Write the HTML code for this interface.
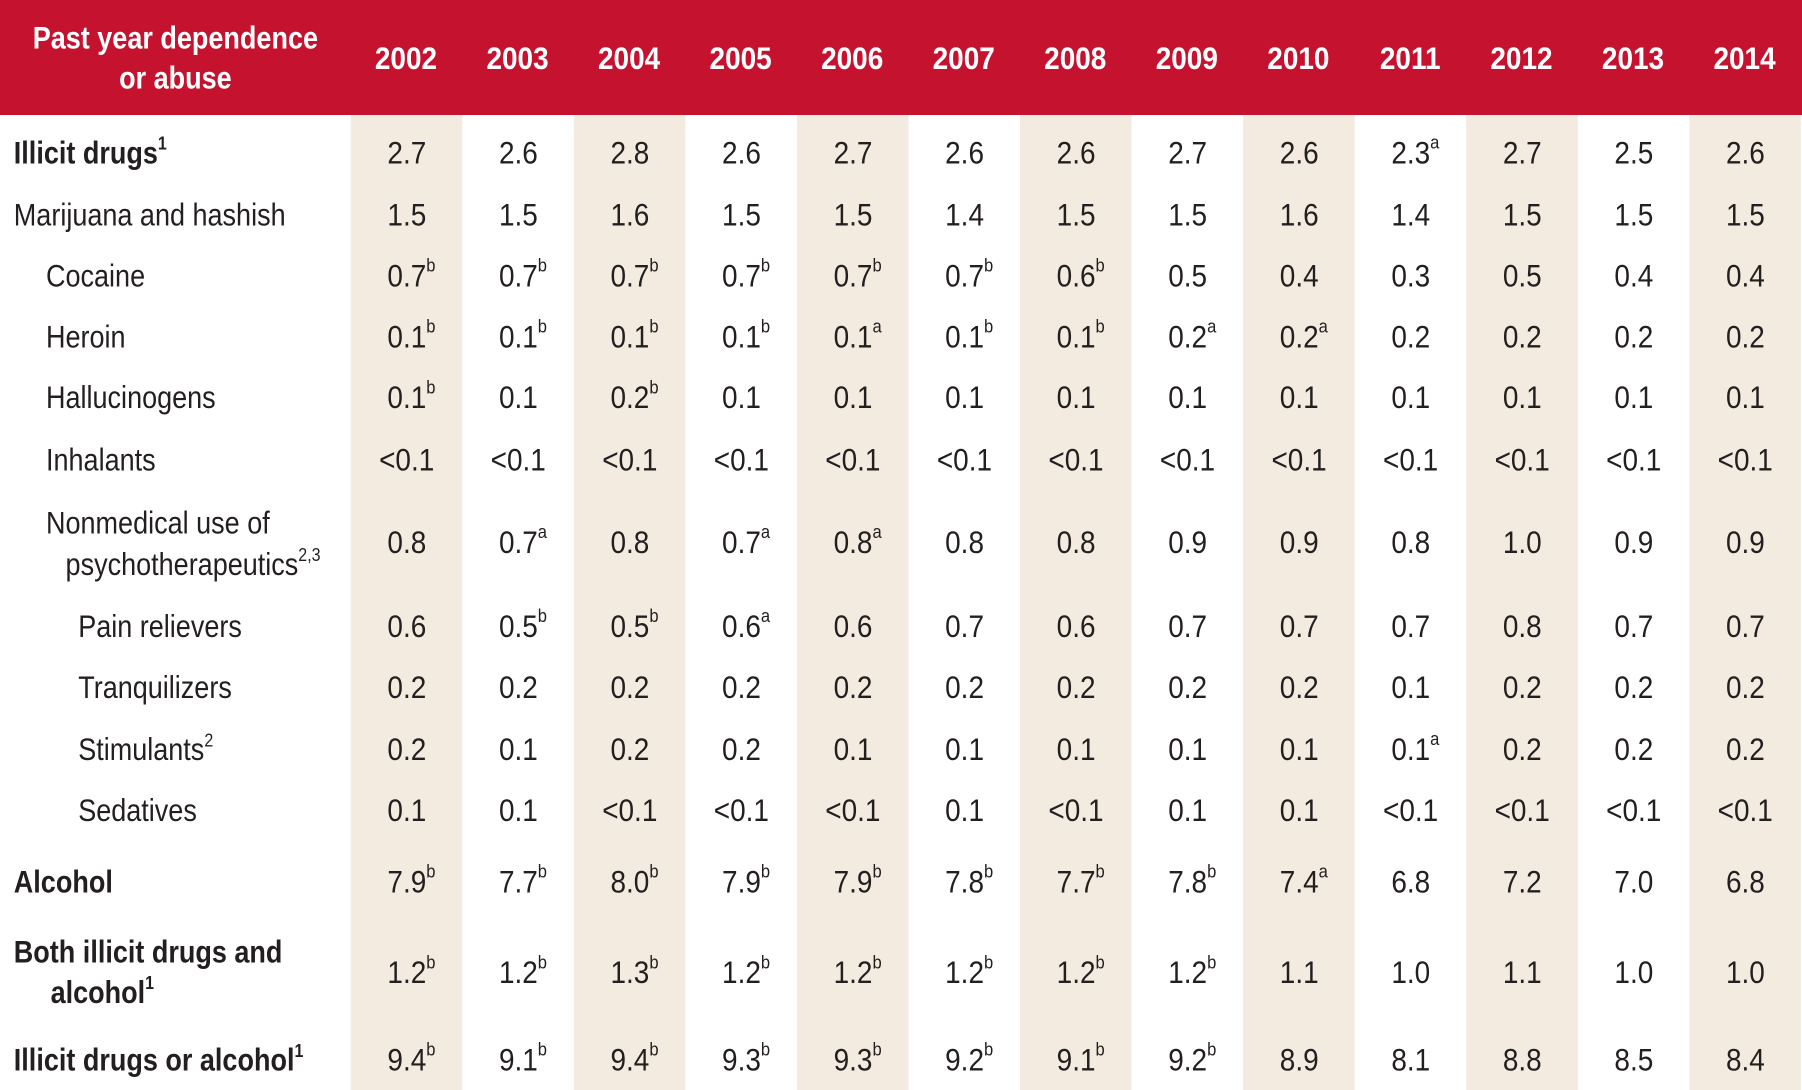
<!DOCTYPE html>
<html><head><meta charset="utf-8"><style>
html,body{margin:0;padding:0;background:#fff;overflow:hidden}
#w{position:absolute;left:0;top:0;width:1567px;height:948px;transform:scale(1.14997);transform-origin:0 0;font-family:"Liberation Sans Narrow","Liberation Sans",sans-serif;color:#231f20}
.hdr{position:absolute;left:0;top:0;width:1567px;height:100px;background:#c5122f}
.sh{position:absolute;top:100px;height:848px;width:97px;background:#f3ebdf}
.t{position:absolute;font-size:27px;white-space:nowrap;line-height:1;transform:scaleX(.87);transform-origin:0 0}
.h{color:#fff;font-weight:bold;font-size:27px}
.c{transform-origin:50% 0}
.v{position:absolute;width:97px;text-align:center;font-size:27px;line-height:1}
.v span{position:relative;display:inline-block;transform:scaleX(.9)}
.v sup{position:absolute;left:100%;top:-3px;font-size:16px}
b sup,.t sup{font-size:16px;vertical-align:top;position:relative;top:-2px}
</style></head><body><div id="w">
<div class="hdr"></div>
<div class="sh" style="left:305px"></div><div class="sh" style="left:499px"></div><div class="sh" style="left:693px"></div><div class="sh" style="left:887px"></div><div class="sh" style="left:1081px"></div><div class="sh" style="left:1275px"></div><div class="sh" style="left:1469px"></div>
<div class="t h c" style="left:0;width:305px;text-align:center;top:20px">Past year dependence</div>
<div class="t h c" style="left:0;width:305px;text-align:center;top:55px">or abuse</div>
<div id="years"></div>
<div id="labels">
<div class="t" style="left:12px;top:120px"><b>Illicit drugs<sup>1</sup></b></div>
<div class="t" style="left:12px;top:174px">Marijuana and hashish</div>
<div class="t" style="left:40px;top:227px">Cocaine</div>
<div class="t" style="left:40px;top:280px">Heroin</div>
<div class="t" style="left:40px;top:333px">Hallucinogens</div>
<div class="t" style="left:40px;top:387px">Inhalants</div>
<div class="t" style="left:40px;top:442px">Nonmedical use of</div>
<div class="t" style="left:57px;top:478px">psychotherapeutics<sup>2,3</sup></div>
<div class="t" style="left:68px;top:532px">Pain relievers</div>
<div class="t" style="left:68px;top:585px">Tranquilizers</div>
<div class="t" style="left:68px;top:639px">Stimulants<sup>2</sup></div>
<div class="t" style="left:68px;top:692px">Sedatives</div>
<div class="t" style="left:12px;top:754px"><b>Alcohol</b></div>
<div class="t" style="left:12px;top:815px"><b>Both illicit drugs and</b></div>
<div class="t" style="left:44px;top:850px"><b>alcohol<sup>1</sup></b></div>
<div class="t" style="left:12px;top:909px"><b>Illicit drugs or alcohol<sup>1</sup></b></div>
</div>
<div id="vals"></div>
<script>
var yrs=[2002,2003,2004,2005,2006,2007,2008,2009,2010,2011,2012,2013,2014];
var h='';yrs.forEach(function(y,i){h+='<div class="v h" style="left:'+(305+97*i)+'px;top:38px"><span>'+y+'</span></div>';});
document.getElementById('years').innerHTML=h;
var rows=[
[120,"2.7 2.6 2.8 2.6 2.7 2.6 2.6 2.7 2.6 2.3a 2.7 2.5 2.6"],
[174,"1.5 1.5 1.6 1.5 1.5 1.4 1.5 1.5 1.6 1.4 1.5 1.5 1.5"],
[227,"0.7b 0.7b 0.7b 0.7b 0.7b 0.7b 0.6b 0.5 0.4 0.3 0.5 0.4 0.4"],
[280,"0.1b 0.1b 0.1b 0.1b 0.1a 0.1b 0.1b 0.2a 0.2a 0.2 0.2 0.2 0.2"],
[333,"0.1b 0.1 0.2b 0.1 0.1 0.1 0.1 0.1 0.1 0.1 0.1 0.1 0.1"],
[387,"<0.1 <0.1 <0.1 <0.1 <0.1 <0.1 <0.1 <0.1 <0.1 <0.1 <0.1 <0.1 <0.1"],
[459,"0.8 0.7a 0.8 0.7a 0.8a 0.8 0.8 0.9 0.9 0.8 1.0 0.9 0.9"],
[532,"0.6 0.5b 0.5b 0.6a 0.6 0.7 0.6 0.7 0.7 0.7 0.8 0.7 0.7"],
[585,"0.2 0.2 0.2 0.2 0.2 0.2 0.2 0.2 0.2 0.1 0.2 0.2 0.2"],
[639,"0.2 0.1 0.2 0.2 0.1 0.1 0.1 0.1 0.1 0.1a 0.2 0.2 0.2"],
[692,"0.1 0.1 <0.1 <0.1 <0.1 0.1 <0.1 0.1 0.1 <0.1 <0.1 <0.1 <0.1"],
[754,"7.9b 7.7b 8.0b 7.9b 7.9b 7.8b 7.7b 7.8b 7.4a 6.8 7.2 7.0 6.8"],
[833,"1.2b 1.2b 1.3b 1.2b 1.2b 1.2b 1.2b 1.2b 1.1 1.0 1.1 1.0 1.0"],
[909,"9.4b 9.1b 9.4b 9.3b 9.3b 9.2b 9.1b 9.2b 8.9 8.1 8.8 8.5 8.4"]];
var o='';rows.forEach(function(r){r[1].split(' ').forEach(function(v,i){
var m=v.match(/^(.*?)([ab]?)$/);var n=m[1].replace('<','&lt;');
o+='<div class="v" style="left:'+(305+97*i)+'px;top:'+r[0]+'px"><span>'+n+(m[2]?'<sup>'+m[2]+'</sup>':'')+'</span></div>';});});
document.getElementById('vals').innerHTML=o;
</script>
</div></body></html>
